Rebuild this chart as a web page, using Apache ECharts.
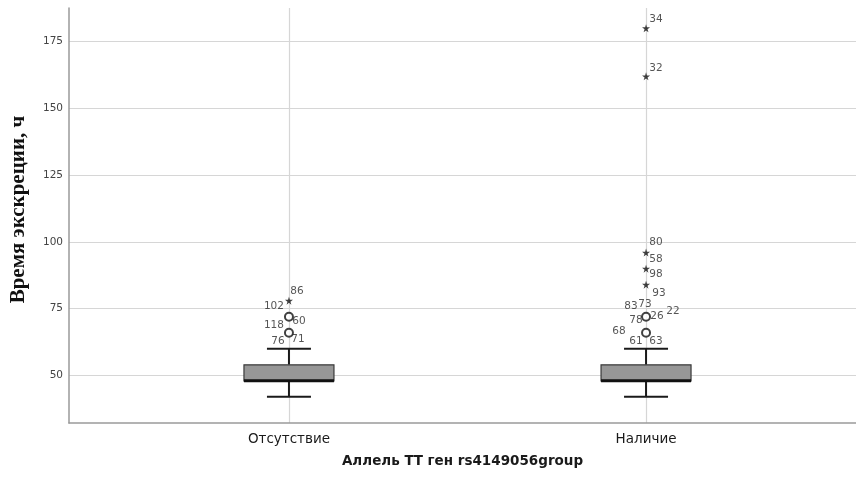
<!DOCTYPE html>
<html>
<head>
<meta charset="utf-8">
<script src="https://cdn.jsdelivr.net/npm/echarts@6/dist/echarts.min.js"></script>
<style>
  html, body { margin: 0; padding: 0; background: #fff; }
  #chart { width: 856px; height: 479px; }
</style>
</head>
<body>
<div id="chart"></div>
<script>
// Groups on the x axis
const categories = ['Отсутствие', 'Наличие'];
// Five-number summaries per group: [min whisker, Q1, median, Q3, max whisker]
const boxAbsent = [42, 48, 48, 54, 60];
const boxPresent = [42, 48, 48, 54, 60];
// Outliers (circles) and extreme values (stars) per group
const outliersAbsent = [72, 66];
const extremesAbsent = [78];
const outliersPresent = [72, 66];
const extremesPresent = [180, 162, 96, 90, 84];
// Case numbers: [group index, value, case id]
const caseLabels = [
  [0, 78, '86'], [0, 72, '102'], [0, 72, '60'], [0, 66, '118'], [0, 66, '76'], [0, 66, '71'],
  [1, 180, '34'], [1, 162, '32'], [1, 96, '80'], [1, 90, '58'], [1, 84, '98'],
  [1, 72, '93'], [1, 72, '83'], [1, 72, '73'], [1, 72, '22'], [1, 72, '78'], [1, 72, '26'],
  [1, 66, '68'], [1, 66, '61'], [1, 66, '63']
];
// Y axis tick values
const yTicks = [50, 75, 100, 125, 150, 175];

// Pixel nudges for case-number labels so they do not overlap
const labelShift = {
  '86': [8, -9], '102': [-15, -10], '60': [10, 5], '118': [-15, -7], '76': [-11, 9], '71': [9, 7],
  '34': [10, -9], '32': [10, -8], '80': [10, -10], '58': [10, -9], '98': [10, -10],
  '93': [13, -23], '83': [-15, -10], '73': [-1, -12], '22': [27, -5], '78': [-10, 4], '26': [11, 0],
  '68': [-27, -1], '61': [-10, 9], '63': [10, 9]
};

const STAR = 'path://M50,0 L61,35 L98,35 L68,57 L79,91 L50,70 L21,91 L32,57 L2,35 L39,35 Z';

const boxData = [[0].concat(boxAbsent), [1].concat(boxPresent)];
const circleData = outliersAbsent.map(v => [0, v]).concat(outliersPresent.map(v => [1, v]));
const starData = extremesAbsent.map(v => [0, v]).concat(extremesPresent.map(v => [1, v]));
const labelData = caseLabels.map(d => ({
  value: [d[0], d[1]],
  label: { formatter: d[2], offset: labelShift[d[2]] || [8, -8] }
}));

const chart = echarts.init(document.getElementById('chart'), null, { renderer: 'canvas' });

chart.setOption({
  animation: false,
  backgroundColor: '#ffffff',
  grid: { left: 69, right: 0, top: 8, bottom: 56, containLabel: false },
  xAxis: {
    type: 'value',
    min: -0.616,
    max: 1.588,
    name: 'Аллель ТТ ген rs4149056group',
    nameLocation: 'middle',
    nameGap: 31,
    nameTextStyle: { fontFamily: 'DejaVu Sans', fontWeight: 'bold', fontSize: 13.5, color: '#1a1a1a' },
    axisLine: { show: true, onZero: false, lineStyle: { color: '#9a9a9a', width: 1.5 } },
    axisTick: { show: false, customValues: [0, 1] },
    axisLabel: {
      customValues: [0, 1],
      formatter: v => categories[Math.round(v)] || '',
      fontFamily: 'DejaVu Sans', fontSize: 13.5, color: '#1a1a1a', margin: 9
    },
    splitLine: { show: true, lineStyle: { color: '#d6d6d6', width: 1.2 } }
  },
  yAxis: {
    type: 'value',
    min: 32.2,
    max: 187.6,
    name: 'Время экскреции, ч',
    nameLocation: 'middle',
    nameGap: 40,
    nameTextStyle: {
      fontFamily: 'Liberation Serif', fontWeight: 'bold', fontSize: 21, color: '#111',
      padding: [0, 0, 0, 12]
    },
    axisLine: { show: true, onZero: false, lineStyle: { color: '#9a9a9a', width: 1.5 } },
    axisTick: { show: false, customValues: yTicks },
    axisLabel: {
      customValues: yTicks,
      fontFamily: 'DejaVu Sans', fontSize: 10.5, color: '#444', margin: 6
    },
    splitLine: { show: true, lineStyle: { color: '#d6d6d6', width: 1.2 } }
  },
  series: [
    {
      type: 'custom',
      data: boxData,
      encode: { x: 0, y: [1, 2, 3, 4, 5] },
      renderItem: function (params, api) {
        const x = api.value(0);
        const pMin = api.coord([x, api.value(1)]);
        const pQ1 = api.coord([x, api.value(2)]);
        const pMed = api.coord([x, api.value(3)]);
        const pQ3 = api.coord([x, api.value(4)]);
        const pMax = api.coord([x, api.value(5)]);
        const cx = pMin[0];
        const halfBox = 45, halfCap = 22;
        const wStyle = { stroke: '#1a1a1a', lineWidth: 2 };
        return {
          type: 'group',
          children: [
            { type: 'line', shape: { x1: cx, y1: pQ3[1], x2: cx, y2: pMax[1] }, style: wStyle },
            { type: 'line', shape: { x1: cx, y1: pQ1[1], x2: cx, y2: pMin[1] }, style: wStyle },
            { type: 'line', shape: { x1: cx - halfCap, y1: pMax[1], x2: cx + halfCap, y2: pMax[1] }, style: wStyle },
            { type: 'line', shape: { x1: cx - halfCap, y1: pMin[1], x2: cx + halfCap, y2: pMin[1] }, style: wStyle },
            { type: 'rect', shape: { x: cx - halfBox, y: pQ3[1], width: halfBox * 2, height: pQ1[1] - pQ3[1] },
              style: { fill: '#979797', stroke: '#3a3a3a', lineWidth: 1.2 } },
            { type: 'line', shape: { x1: cx - halfBox, y1: pMed[1], x2: cx + halfBox, y2: pMed[1] },
              style: { stroke: '#111', lineWidth: 3 } }
          ]
        };
      },
      z: 3
    },
    {
      type: 'scatter',
      data: circleData,
      symbol: 'circle',
      symbolSize: 8,
      itemStyle: { color: '#ffffff', borderColor: '#111', borderWidth: 2 },
      z: 4
    },
    {
      type: 'scatter',
      data: starData,
      symbol: STAR,
      symbolSize: 8,
      itemStyle: { color: '#111' },
      z: 4
    },
    {
      type: 'scatter',
      data: labelData,
      symbolSize: 0,
      silent: true,
      label: {
        show: true,
        position: 'inside',
        fontFamily: 'DejaVu Sans',
        fontSize: 10.5,
        color: '#2a2a2a'
      },
      z: 5
    }
  ]
});
</script>
</body>
</html>
